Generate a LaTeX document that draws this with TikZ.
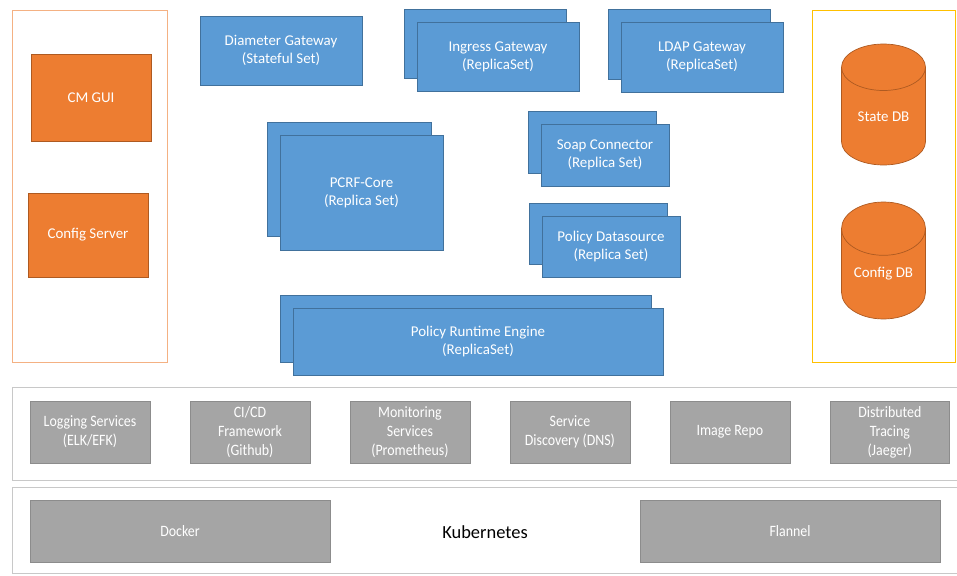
\documentclass[tikz,border=0pt]{standalone}
\usepackage{fontspec}
\setmainfont{Carlito}
\newfontfamily\narrowfont[FakeStretch=0.88]{Carlito}
\usepackage{tikz}
\usetikzlibrary{shapes.geometric,positioning}
\definecolor{boxBlue}{HTML}{5B9BD5}
\definecolor{edgeBlue}{HTML}{41719C}
\definecolor{boxOrange}{HTML}{ED7D31}
\definecolor{edgeOrange}{HTML}{AE5A21}
\definecolor{lightOrange}{HTML}{F4B183}
\definecolor{goldLine}{HTML}{FFC000}
\definecolor{boxGray}{HTML}{A5A5A5}
\definecolor{edgeGray}{HTML}{8C8C8C}
\definecolor{panelGray}{HTML}{C8C8C8}

\begin{document}
\begin{tikzpicture}[
    x=0.02cm, y=-0.02cm,
    bluebox/.style={rectangle, draw=edgeBlue, fill=boxBlue, text=white, align=center, inner sep=0pt, font=\fontsize{8.5}{10.2}\selectfont},
    orangebox/.style={rectangle, draw=edgeOrange, fill=boxOrange, text=white, align=center, inner sep=0pt, minimum width=2.4cm, font=\fontsize{8.5}{10.2}\selectfont},
    dbbox/.style={cylinder, draw=edgeOrange, shape border rotate=90, aspect=0.9, anchor=shape center, fill=boxOrange, text=white, align=center, minimum width=1.68cm, minimum height=2.42cm, inner sep=0pt, font=\fontsize{8.5}{10.2}\selectfont},
    graybox/.style={rectangle, draw=edgeGray, fill=boxGray, text=white, align=center, inner sep=0pt, outer sep=0pt, minimum width=2.4cm, minimum height=1.24cm, font=\narrowfont\fontsize{9}{10.8}\selectfont},
    basebox/.style={rectangle, draw=edgeGray, fill=boxGray, text=white, inner sep=0pt, minimum width=6cm, minimum height=1.24cm, font=\narrowfont\fontsize{9}{10.8}\selectfont},
    panel/.style={rectangle, inner sep=0pt, fill=none}
]
\useasboundingbox (0,0) rectangle (957,575);

% Containers
\node[panel, draw=lightOrange, minimum width=3.1cm, minimum height=7.04cm] (mgmt) at (89.5,186) {};
\node[panel, draw=goldLine, minimum width=2.86cm, minimum height=7.04cm] (dbs) at (883.5,186) {};
\node[panel, draw=panelGray, minimum width=18.96cm, minimum height=1.86cm] (svcpanel) at (486,433.5) {};
\node[panel, draw=panelGray, minimum width=18.96cm, minimum height=1.72cm] (kubepanel) at (486,530) {};

% Management
\node[orangebox, minimum height=1.74cm] (cmgui) at (91,97.5) {CM GUI};
\node[orangebox, minimum height=1.68cm] (cfgsrv) at (88,235) {Config Server};

% Gateways
\node[bluebox, minimum width=3.24cm, minimum height=1.38cm] (diameter) at (281,50.5) {Diameter Gateway\\(Stateful Set)};
\node[bluebox, minimum width=3.24cm, minimum height=1.38cm] (ingressB) at (485,43.5) {};
\node[bluebox, minimum width=3.24cm, minimum height=1.38cm] (ingress) at (498,56.5) {Ingress Gateway\\(ReplicaSet)};
\node[bluebox, minimum width=3.24cm, minimum height=1.4cm] (ldapB) at (689,44) {};
\node[bluebox, minimum width=3.24cm, minimum height=1.4cm] (ldap) at (702,57) {LDAP Gateway\\(ReplicaSet)};

% Core services
\node[bluebox, minimum width=3.28cm, minimum height=2.28cm] (pcrfB) at (349,179) {};
\node[bluebox, minimum width=3.26cm, minimum height=2.3cm] (pcrf) at (361.5,192.5) {PCRF-Core\\(Replica Set)};
\node[bluebox, minimum width=2.56cm, minimum height=1.24cm] (soapB) at (592,142) {};
\node[bluebox, minimum width=2.56cm, minimum height=1.24cm] (soap) at (605,155) {Soap Connector\\(Replica Set)};
\node[bluebox, minimum width=2.76cm, minimum height=1.22cm] (pdsB) at (598,233.5) {};
\node[bluebox, minimum width=2.76cm, minimum height=1.22cm] (pds) at (611,246.5) {Policy Datasource\\(Replica Set)};
\node[bluebox, minimum width=7.42cm, minimum height=1.34cm] (preB) at (465.5,328.5) {};
\node[bluebox, minimum width=7.4cm, minimum height=1.34cm] (pre) at (478,341.5) {Policy Runtime Engine\\(ReplicaSet)};

% Databases
\node[dbbox] (statedb) at (883.5,104.5) {State DB};
\node[dbbox, minimum height=2.34cm] (configdb) at (883.5,260.5) {Config DB};

% Platform services
\node[graybox] (logging) at (90,432) {Logging Services\\(ELK/EFK)};
\node[graybox, right=0.8cm of logging] (cicd) {CI/CD\\Framework\\(Github)};
\node[graybox, right=0.8cm of cicd] (monitor) {Monitoring\\Services\\(Prometheus)};
\node[graybox, right=0.8cm of monitor] (discovery) {Service\\Discovery (DNS)};
\node[graybox, right=0.8cm of discovery] (imgrepo) {Image Repo};
\node[graybox, right=0.8cm of imgrepo] (tracing) {Distributed\\Tracing\\(Jaeger)};

% Kubernetes
\node[basebox] (docker) at (180,531) {Docker};
\node[basebox] (flannel) at (790,531) {Flannel};
\node[font=\fontsize{10.5}{12}\selectfont] (kube) at (485,532) {Kubernetes};

\end{tikzpicture}
\end{document}
